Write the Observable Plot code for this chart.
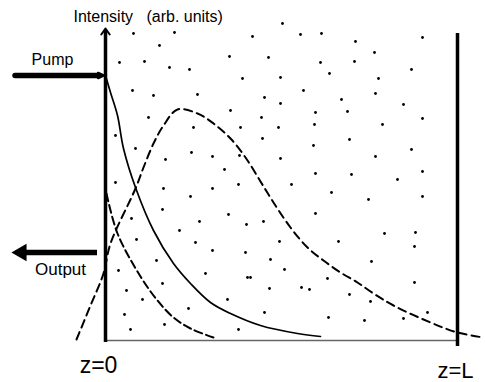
<!DOCTYPE html>
<html><head><meta charset="utf-8">
<script src="https://cdn.jsdelivr.net/npm/d3@7"></script>
<script src="https://cdn.jsdelivr.net/npm/@observablehq/plot@0.6"></script>
<style>body{margin:0;background:#fff}svg{display:block}</style>
</head><body><div id="chart"></div>
<script>
// Positions along the fiber (z, arbitrary units, z = L at 352) and intensities (arb. units)
const L = 352;
const tickZ = [0, L];
const tickLabels = ["z=0", "z=L"];

// Pump intensity (solid, decaying)
const pumpZ = [0, 5, 12, 18, 30, 48, 68, 85, 105, 125, 155, 192, 215];
const pumpI = [265, 248, 225, 192, 153, 110, 77, 57, 38, 27, 15, 7, 4];

// Signal intensity (long dashed)
const signalZ = [-29, -15, -2, 5, 30, 38, 48, 58, 72, 92, 108, 125, 140, 155, 168, 185, 202, 218, 235, 252, 268, 288, 325, 352, 378];
const signalI = [1, 35, 67, 97, 152, 173, 197, 215, 231, 227, 217, 202, 183, 159, 138, 113, 93, 80, 68, 58, 47, 35, 18, 8, 3];

// Output / backward wave (short dashed)
const outputZ = [1, 12, 35, 52, 68, 85, 108];
const outputI = [147, 107, 64, 40, 23, 12, 3];

// Scattering centres (dots)
const dotZ = [28,69,54,14,39,64,84,124,137,27,48,92,125,43,88,135,177,147,195,216,250,317,269,163,215,249,224,306,175,273,198,159,270,236,175,298,210,242,156,317,173,209,277,157,244,208,306,175,270,210,246,317,292,133,186,226,263,317,210,141,158,279,310,174,233,309,140,165,266,179,142,145,222,309,164,196,204,244,265,159,322,223,259,298,133,10,58,107,85,57,123,26,94,74,31,90,107,51,13,100,57,21,37,122,83,19,59,25,10,30,60,86,107,134,119];
const dotI = [307,308,295,278,279,273,271,284,262,250,245,246,230,223,213,213,317,304,306,307,299,303,288,283,278,279,267,271,263,262,250,243,247,241,237,236,228,229,223,222,213,216,216,202,201,195,191,182,184,167,166,169,161,156,156,148,141,144,127,116,119,107,108,99,99,94,88,81,79,71,63,63,62,58,52,53,51,46,39,28,28,23,20,22,11,158,152,152,144,131,126,122,119,110,101,98,90,80,70,67,57,50,41,41,32,26,16,11,205,192,181,188,184,185,171];

const pump = pumpZ.map((z, i) => ({z, I: pumpI[i]}));
const signal = signalZ.map((z, i) => ({z, I: signalI[i]}));
const output = outputZ.map((z, i) => ({z, I: outputI[i]}));
const dots = dotZ.map((z, i) => ({z, I: dotI[i]}));
const ticks = tickZ.map((z, i) => ({z, label: tickLabels[i]}));

const font = "Arial, 'Liberation Sans', sans-serif";

const chart = Plot.plot({
  width: 485, height: 382, margin: 0,
  x: {domain: [-105, 380], axis: null},
  y: {domain: [-42, 340], axis: null},
  style: {background: "white", fontFamily: font, color: "black"},
  marks: [
    // scattering dots
    Plot.dot(dots, {x: "z", y: "I", r: 1.4, fill: "black", stroke: "none"}),
    // bottom axis
    Plot.ruleY([0], {x1: 0, x2: L, stroke: "#666", strokeWidth: 1.5}),
    // left axis with arrow
    Plot.ruleX([0], {y1: -2, y2: 310, stroke: "black", strokeWidth: 3.5}),
    Plot.arrow([0], {x1: 0, y1: 290, x2: 0, y2: 312, stroke: "black", strokeWidth: 2, headLength: 13, headAngle: 70}),
    // right boundary z = L
    Plot.ruleX([L], {y1: -6, y2: 307, stroke: "black", strokeWidth: 3.5}),
    // curves
    Plot.line(pump, {x: "z", y: "I", curve: "catmull-rom", stroke: "black", strokeWidth: 1.7}),
    Plot.line(signal, {x: "z", y: "I", curve: "catmull-rom", stroke: "black", strokeWidth: 2, strokeDasharray: "8,5"}),
    Plot.line(output, {x: "z", y: "I", curve: "catmull-rom", stroke: "black", strokeWidth: 2, strokeDasharray: "8,4"}),
    // Pump arrow
    Plot.ruleY([265], {x1: -90, x2: -8, stroke: "black", strokeWidth: 5.5, strokeLinecap: "round"}),
    Plot.arrow([0], {x1: -20, y1: 265, x2: -2, y2: 265, stroke: "black", strokeWidth: 2.5, headLength: 15, headAngle: 50}),
    // Output arrow
    Plot.ruleY([88], {x1: -8, x2: -80, stroke: "black", strokeWidth: 5.5}),
    Plot.dot([0], {x: -84, y: 88, symbol: "triangle", rotate: -90, r: 6.5, fill: "black", stroke: "none"}),
    // labels
    Plot.text(["Intensity\u00a0\u00a0\u00a0(arb. units)"], {x: -32, y: 324, text: d => d, textAnchor: "start", lineAnchor: "middle", fontSize: 16, fill: "black"}),
    Plot.text(["Pump"], {x: -53, y: 281, text: d => d, lineAnchor: "middle", fontSize: 16, fill: "black"}),
    Plot.text(["Output"], {x: -45, y: 71, text: d => d, lineAnchor: "middle", fontSize: 17, fill: "black"}),
    Plot.text(ticks.slice(0, 1), {x: "z", y: -25, text: "label", dx: -7, lineAnchor: "middle", fontSize: 23, fill: "black"}),
    Plot.text(ticks.slice(1), {x: "z", y: -30, text: "label", dx: -2, lineAnchor: "middle", fontSize: 22, fill: "black"})
  ]
});
document.getElementById("chart").appendChild(chart);
</script>
</body></html>
